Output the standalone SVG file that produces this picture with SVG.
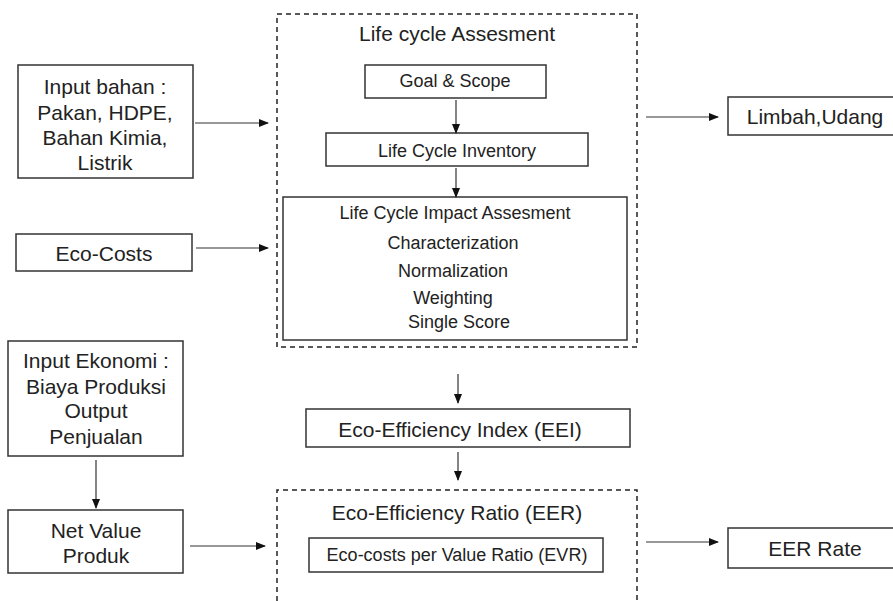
<svg xmlns="http://www.w3.org/2000/svg" width="893" height="601" viewBox="0 0 893 601">
<style>
text{font-family:"Liberation Sans",Arial,sans-serif;fill:#222;text-anchor:middle;dominant-baseline:central}
.box{fill:#fff;stroke:#333;stroke-width:1.5}
.dash{fill:none;stroke:#222;stroke-width:1.5;stroke-dasharray:5,4}
.con{stroke:#333;stroke-width:1.2;fill:none;marker-end:url(#ah)}
.l{font-size:21px}.s{font-size:18px}
</style>
<defs>
<marker id="ah" markerWidth="10" markerHeight="8" refX="9" refY="4" orient="auto" markerUnits="userSpaceOnUse">
<path d="M0,0 L10,4 L0,8 Z" fill="#111"/>
</marker>
</defs>
<rect width="893" height="601" fill="#fff"/>
<g id="lca">
<rect class="dash" x="277" y="14" width="360" height="333"/>
<text class="l" x="457" y="33">Life cycle Assesment</text>
</g>
<g id="eer">
<path class="dash" d="M277,610 V490 H637 V610"/>
<text class="l" x="457" y="512">Eco-Efficiency Ratio (EER)</text>
</g>
<g id="input-bahan">
<rect class="box" x="18" y="65" width="175" height="113"/>
<text class="l" x="105" y="86">Input bahan :</text>
<text class="l" x="105" y="112">Pakan, HDPE,</text>
<text class="l" x="105" y="137">Bahan Kimia,</text>
<text class="l" x="105" y="162">Listrik</text>
</g>
<g id="goal">
<rect class="box" x="365" y="65" width="181" height="33"/>
<text class="s" x="455" y="81">Goal &amp; Scope</text>
</g>
<g id="lci">
<rect class="box" x="326" y="133" width="262" height="33"/>
<text class="s" x="457" y="151">Life Cycle Inventory</text>
</g>
<g id="lcia">
<rect class="box" x="283" y="197" width="344" height="143"/>
<text class="s" x="455" y="213">Life Cycle Impact Assesment</text>
<text class="s" x="453" y="243">Characterization</text>
<text class="s" x="453" y="271">Normalization</text>
<text class="s" x="453" y="298">Weighting</text>
<text class="s" x="459" y="322">Single Score</text>
</g>
<g id="limbah">
<rect class="box" x="728" y="97" width="170" height="38"/>
<text class="l" x="815" y="116">Limbah,Udang</text>
</g>
<g id="eco-costs">
<rect class="box" x="16" y="234" width="176" height="37"/>
<text class="l" x="104" y="253">Eco-Costs</text>
</g>
<g id="input-ekonomi">
<rect class="box" x="8" y="341" width="175" height="115"/>
<text class="l" x="96" y="360">Input Ekonomi :</text>
<text class="l" x="96" y="386">Biaya Produksi</text>
<text class="l" x="96" y="410">Output</text>
<text class="l" x="96" y="436">Penjualan</text>
</g>
<g id="net-value">
<rect class="box" x="8" y="510" width="175" height="63"/>
<text class="l" x="96" y="530">Net Value</text>
<text class="l" x="96" y="555">Produk</text>
</g>
<g id="eei">
<rect class="box" x="306" y="409" width="324" height="38"/>
<text class="l" x="460" y="429">Eco-Efficiency Index (EEI)</text>
</g>
<g id="evr">
<rect class="box" x="309" y="538" width="294" height="34"/>
<text class="s" x="457" y="555">Eco-costs per Value Ratio (EVR)</text>
</g>
<g id="eer-rate">
<rect class="box" x="728" y="528" width="170" height="40"/>
<text class="l" x="815" y="548">EER Rate</text>
</g>
<g id="connectors">
<line class="con" x1="195" y1="123" x2="268" y2="123"/>
<line class="con" x1="456" y1="100" x2="456" y2="133"/>
<line class="con" x1="456" y1="168" x2="456" y2="197"/>
<line class="con" x1="646" y1="117" x2="718" y2="117"/>
<line class="con" x1="196" y1="248" x2="268" y2="248"/>
<line class="con" x1="96" y1="460" x2="96" y2="508"/>
<line class="con" x1="190" y1="546" x2="265" y2="546"/>
<line class="con" x1="458" y1="374" x2="458" y2="403"/>
<line class="con" x1="458" y1="452" x2="458" y2="480"/>
<line class="con" x1="646" y1="542" x2="718" y2="542"/>
</g>
</svg>
